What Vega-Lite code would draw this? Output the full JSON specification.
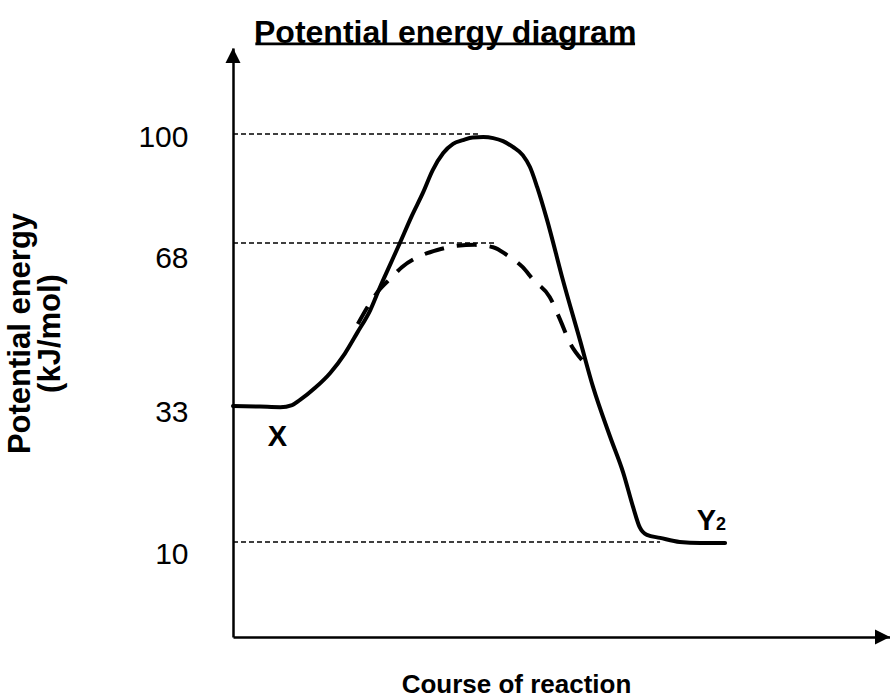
{
  "$schema": "https://vega.github.io/schema/vega-lite/v6.json",
  "width": 657,
  "height": 589,
  "autosize": "none",
  "padding": {"left": 233, "top": 48, "right": 0, "bottom": 60},
  "background": "white",
  "config": {"view": {"stroke": null}, "font": "Liberation Sans"},
  "title": {
    "text": "Potential energy diagram",
    "fontSize": 32,
    "fontWeight": "bold",
    "color": "black",
    "anchor": "start",
    "frame": "group",
    "dx": 21,
    "baseline": "alphabetic",
    "offset": 0,
    "dy": 32
  },
  "datasets": {
    "uncatalysed": [
      {"r": 0, "e": 33}, {"r": 4.1, "e": 32.9}, {"r": 7.2, "e": 32.8}, {"r": 9.0, "e": 33.2},
      {"r": 10.2, "e": 34.3}, {"r": 12.5, "e": 36.9}, {"r": 14.8, "e": 40.1}, {"r": 17.0, "e": 44.2},
      {"r": 18.9, "e": 48.7}, {"r": 20.9, "e": 53.6}, {"r": 22.4, "e": 58.6}, {"r": 23.9, "e": 63.3},
      {"r": 25.4, "e": 68}, {"r": 27.2, "e": 75.9}, {"r": 28.9, "e": 82.7}, {"r": 30.4, "e": 89.4},
      {"r": 32.0, "e": 94.4}, {"r": 33.5, "e": 97.1}, {"r": 35.0, "e": 98.2}, {"r": 36.5, "e": 99.0},
      {"r": 38.1, "e": 99.1}, {"r": 39.6, "e": 98.8}, {"r": 41.1, "e": 97.9}, {"r": 42.6, "e": 96.2},
      {"r": 44.1, "e": 93.8}, {"r": 45.2, "e": 90.3}, {"r": 46.3, "e": 84.4}, {"r": 47.8, "e": 74.8},
      {"r": 50.2, "e": 60.1}, {"r": 52.8, "e": 47.2}, {"r": 54.8, "e": 37.1}, {"r": 57.4, "e": 27.8},
      {"r": 59.4, "e": 21.7}, {"r": 60.9, "e": 15.9}, {"r": 61.9, "e": 12.5}, {"r": 63.0, "e": 11.2},
      {"r": 65.0, "e": 10.7}, {"r": 68.0, "e": 10.0}, {"r": 71.1, "e": 9.9}, {"r": 74.9, "e": 9.9}
    ],
    "catalysed": [
      {"r": 19.0, "e": 50.6}, {"r": 20.5, "e": 54.3}, {"r": 21.9, "e": 57.3}, {"r": 24.2, "e": 60.7},
      {"r": 25.7, "e": 62.8}, {"r": 28.8, "e": 65.4}, {"r": 31.1, "e": 66.5}, {"r": 34.1, "e": 67.4},
      {"r": 36.8, "e": 67.6}, {"r": 39.6, "e": 67.1}, {"r": 41.7, "e": 65.4}, {"r": 44.1, "e": 62.8},
      {"r": 45.7, "e": 60.1}, {"r": 48.2, "e": 56.4}, {"r": 49.8, "e": 51.5}, {"r": 51.3, "e": 46.5},
      {"r": 53.1, "e": 42.9}
    ],
    "levels": [
      {"level": 100, "from": 0, "to": 37.6},
      {"level": 68, "from": 0, "to": 39.9},
      {"level": 10, "from": 0, "to": 65.0}
    ],
    "labels": [
      {"text": "X", "r": 5.3, "e": 26.2},
      {"text": "Y", "r": 70.6, "e": 12.0}
    ],
    "subscripts": [
      {"text": "2", "r": 73.5, "e": 12.0}
    ]
  },
  "encoding": {
    "x": {
      "type": "quantitative",
      "scale": {"domain": [0, 100], "nice": false, "zero": false},
      "axis": {
        "title": "Course of reaction",
        "titleFontSize": 26,
        "titleFontWeight": "bold",
        "titleColor": "black",
        "titleFont": "Liberation Sans",
        "titleAlign": "center",
        "titleBaseline": "alphabetic",
        "titleX": 283,
        "titleY": 55,
        "domain": true,
        "domainColor": "black",
        "domainWidth": 2.5,
        "ticks": false,
        "labels": false,
        "grid": false
      }
    },
    "y": {
      "type": "quantitative",
      "scale": {
        "domain": [0, 10, 33, 68, 100, 125],
        "range": [589, 494, 358, 195, 86, 0],
        "nice": false,
        "zero": false
      },
      "axis": {
        "values": [10, 33, 68, 100],
        "title": ["Potential energy", "(kJ/mol)"],
        "titleFontSize": 31,
        "titleFontWeight": "bold",
        "titleColor": "black",
        "titleFont": "Liberation Sans",
        "titleAngle": -90,
        "titleAlign": "center",
        "titleBaseline": "alphabetic",
        "titleLineHeight": 30,
        "titleX": -204,
        "titleY": 285,
        "domain": true,
        "domainColor": "black",
        "domainWidth": 2.5,
        "ticks": false,
        "grid": false,
        "labelFontSize": 30,
        "labelColor": "black",
        "labelFont": "Liberation Sans",
        "labelPadding": 45,
        "labelBaseline": "middle",
        "labelOffset": {
          "condition": [
            {"test": "datum.value === 68", "value": 15},
            {"test": "datum.value === 10", "value": 12},
            {"test": "datum.value === 33", "value": 6}
          ],
          "value": 3
        }
      }
    }
  },
  "layer": [
    {
      "data": {"name": "levels"},
      "mark": {"type": "rule", "color": "black", "strokeWidth": 1.3, "strokeDash": [5, 3]},
      "encoding": {
        "x": {"field": "from", "type": "quantitative"},
        "x2": {"field": "to"},
        "y": {"field": "level", "type": "quantitative"}
      }
    },
    {
      "data": {"name": "uncatalysed"},
      "mark": {"type": "line", "color": "black", "strokeWidth": 4, "interpolate": "monotone", "strokeCap": "round", "strokeJoin": "round"},
      "encoding": {
        "x": {"field": "r", "type": "quantitative"},
        "y": {"field": "e", "type": "quantitative"}
      }
    },
    {
      "data": {"name": "catalysed"},
      "mark": {"type": "line", "color": "black", "strokeWidth": 4, "interpolate": "monotone", "strokeDash": [20, 13]},
      "encoding": {
        "x": {"field": "r", "type": "quantitative"},
        "y": {"field": "e", "type": "quantitative"}
      }
    },
    {
      "data": {"name": "labels"},
      "mark": {"type": "text", "fontSize": 29, "fontWeight": "bold", "color": "black", "align": "left", "baseline": "alphabetic", "font": "Liberation Sans"},
      "encoding": {
        "x": {"field": "r", "type": "quantitative"},
        "y": {"field": "e", "type": "quantitative"},
        "text": {"field": "text"}
      }
    },
    {
      "data": {"name": "subscripts"},
      "mark": {"type": "text", "fontSize": 18, "fontWeight": "bold", "color": "black", "align": "left", "baseline": "alphabetic", "font": "Liberation Sans"},
      "encoding": {
        "x": {"field": "r", "type": "quantitative"},
        "y": {"field": "e", "type": "quantitative"},
        "text": {"field": "text"}
      }
    },
    {
      "data": {"values": [{}]},
      "mark": {"type": "point", "shape": "M0,0L-0.5,1L0.5,1Z", "filled": true, "color": "black", "opacity": 1, "size": 900},
      "encoding": {
        "x": {"datum": 0, "type": "quantitative"},
        "y": {"datum": 125, "type": "quantitative"}
      }
    },
    {
      "data": {"values": [{}]},
      "mark": {"type": "point", "shape": "M0,0L-1,-0.5L-1,0.5Z", "filled": true, "color": "black", "opacity": 1, "size": 900},
      "encoding": {
        "x": {"datum": 100, "type": "quantitative"},
        "y": {"datum": 0, "type": "quantitative"}
      }
    },
    {
      "data": {"values": [{}]},
      "mark": {"type": "rule", "color": "black", "strokeWidth": 2.7, "clip": false},
      "encoding": {
        "x": {"datum": 3.4, "type": "quantitative"},
        "x2": {"datum": 61.2},
        "y": {"datum": 126.2, "type": "quantitative"}
      }
    }
  ]
}
